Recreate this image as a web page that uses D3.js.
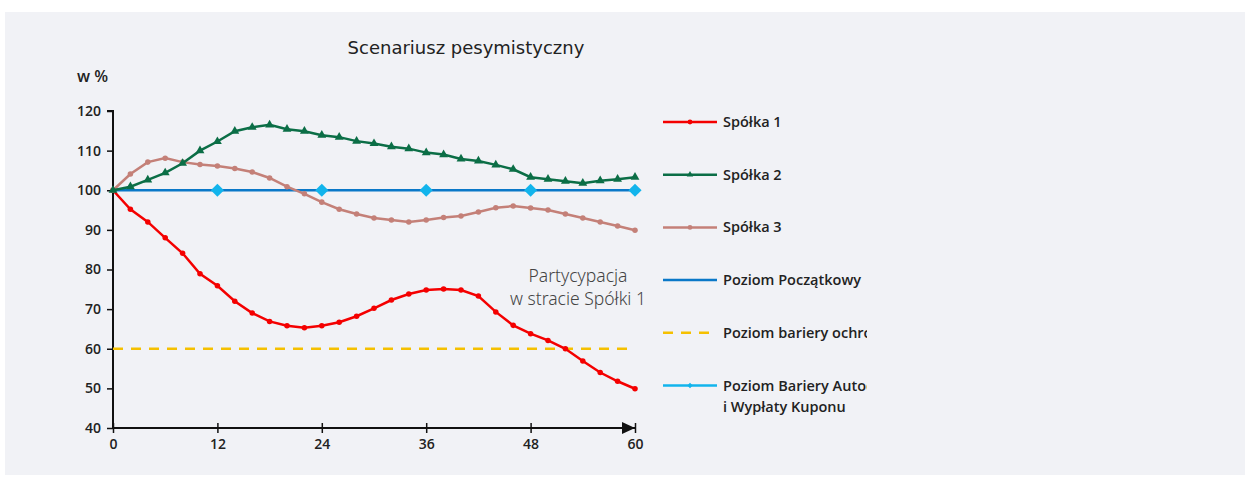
<!DOCTYPE html>
<html>
<head>
<meta charset="utf-8">
<script src="https://cdn.jsdelivr.net/npm/d3@7"></script>
<style>
  body { margin: 0; background: #fff; }
  text { font-family: "DejaVu Sans", sans-serif; }
</style>
</head>
<body>
<div class="chart"></div>
<script>
const months = d3.range(0, 61, 2);
const spolka1 = [100, 95.2, 92, 88, 84.1, 78.9, 75.9, 72, 69, 66.9, 65.8, 65.3, 65.8, 66.7, 68.2, 70.2, 72.3, 73.8, 74.8, 75.1, 74.8, 73.3, 69.3, 65.9, 63.8, 62.1, 60, 56.9, 54, 51.8, 49.9];
const spolka2 = [100, 100.9, 102.6, 104.4, 106.8, 110, 112.3, 114.9, 115.9, 116.5, 115.4, 114.9, 113.9, 113.4, 112.4, 111.8, 111, 110.5, 109.5, 109, 107.9, 107.4, 106.4, 105.3, 103.3, 102.8, 102.3, 101.8, 102.4, 102.8, 103.3];
const spolka3 = [100, 104.1, 107.1, 108.1, 107.1, 106.5, 106.1, 105.5, 104.6, 103.1, 100.9, 99.1, 97, 95.2, 94, 93, 92.5, 92, 92.5, 93.1, 93.5, 94.5, 95.6, 96, 95.5, 95, 94, 93, 92, 91, 89.9];
const poziomPoczatkowy = 100;
const poziomBariery = 60;
const autocallMonths = [12, 24, 36, 48, 60];
const autocallLevel = 100;
const xTicks = [0, 12, 24, 36, 48, 60];
const yTicks = [40, 50, 60, 70, 80, 90, 100, 110, 120];

const W = 1249, H = 477;
const svg = d3.select('.chart').append('svg')
  .attr('width', W).attr('height', H);

svg.append('rect').attr('x', 5).attr('y', 12).attr('width', 1240).attr('height', 463).attr('fill', '#f1f2f6');

const x = d3.scaleLinear().domain([0, 60]).range([113, 635]);
const y = d3.scaleLinear().domain([40, 120]).range([428, 111]);

svg.append('text').attr('x', 466).attr('y', 54).attr('text-anchor', 'middle')
  .attr('font-size', 18).attr('fill', '#222').text('Scenariusz pesymistyczny');

svg.append('text').attr('x', 77).attr('y', 82)
  .style('font-family', '"Open Sans", sans-serif').attr('font-weight', 600)
  .attr('font-size', 16).attr('fill', '#222').text('w %');

// axes
const yAxis = d3.axisLeft(y).tickValues(yTicks).tickSize(6).tickPadding(6);
const gy = svg.append('g').attr('transform', `translate(${x(0)},0)`).call(yAxis);
gy.select('.domain').attr('stroke', '#111').attr('stroke-width', 2).attr('d', `M-6,${y(120)}H0V${y(40)}`);
gy.selectAll('.tick line').attr('stroke', '#111').attr('stroke-width', 1.5);
gy.selectAll('.tick text').attr('font-size', 14).attr('fill', '#222')
  .style('font-family', '"Open Sans", sans-serif').attr('font-weight', 600);

const xAxis = d3.axisBottom(x).tickValues(xTicks).tickSize(5).tickPadding(6);
const gx = svg.append('g').attr('transform', `translate(0,${y(40)})`).call(xAxis);
gx.select('.domain').attr('stroke', '#111').attr('stroke-width', 2).attr('d', `M${x(0)},0H${x(60)}`);
gx.selectAll('.tick line').attr('stroke', '#111').attr('stroke-width', 1.5).attr('y1', -5);
gx.selectAll('.tick text').attr('font-size', 14).attr('fill', '#222')
  .style('font-family', '"Open Sans", sans-serif').attr('font-weight', 600);
gx.append('path').attr('d', `M${x(60) - 13},-6L${x(60)},0L${x(60) - 13},6Z`).attr('fill', '#111');

// reference lines
svg.append('line').attr('x1', x(0)).attr('x2', x(60)).attr('y1', y(poziomBariery)).attr('y2', y(poziomBariery))
  .attr('stroke', '#f5c000').attr('stroke-width', 2.5).attr('stroke-dasharray', '10,8');
svg.append('line').attr('x1', x(0)).attr('x2', x(60)).attr('y1', y(poziomPoczatkowy)).attr('y2', y(poziomPoczatkowy))
  .attr('stroke', '#0a78c8').attr('stroke-width', 2.5);

const line = d3.line().x((d, i) => x(months[i])).y(d => y(d));
const series = [
  { name: 'Spółka 1', data: spolka1, color: '#f40000', marker: 'circle' },
  { name: 'Spółka 3', data: spolka3, color: '#c48078', marker: 'circle' },
  { name: 'Spółka 2', data: spolka2, color: '#0b6e46', marker: 'triangle' }
];
series.forEach(s => {
  svg.append('path').datum(s.data).attr('d', line).attr('fill', 'none')
    .attr('stroke', s.color).attr('stroke-width', 2.5);
  const sym = s.marker === 'triangle' ? d3.symbolTriangle : d3.symbolCircle;
  const size = s.marker === 'triangle' ? 34 : 24;
  svg.append('g').selectAll('path').data(s.data).join('path')
    .attr('transform', (d, i) => `translate(${x(months[i])},${y(d)})`)
    .attr('d', d3.symbol().type(sym).size(size)).attr('fill', s.color);
});

svg.append('g').selectAll('path').data(autocallMonths).join('path')
  .attr('transform', d => `translate(${x(d)},${y(autocallLevel)})`)
  .attr('d', d3.symbol().type(d3.symbolDiamond2).size(110)).attr('fill', '#12b4ec');

// annotation
const ann = svg.append('text').attr('text-anchor', 'middle').attr('font-size', 17.5).attr('fill', '#444')
  .style('font-family', '"Noto Sans", sans-serif').attr('font-weight', 300);
ann.append('tspan').attr('x', 578).attr('y', 282).text('Partycypacja');
ann.append('tspan').attr('x', 578).attr('y', 305).text('w stracie Spółki 1');

// legend
svg.append('clipPath').attr('id', 'lg').append('rect').attr('x', 650).attr('y', 90).attr('width', 217).attr('height', 340);
const legend = svg.append('g').attr('clip-path', 'url(#lg)');
const legendItems = [
  { label: ['Spółka 1'], color: '#f40000', marker: d3.symbolCircle, dash: null },
  { label: ['Spółka 2'], color: '#0b6e46', marker: d3.symbolTriangle, dash: null },
  { label: ['Spółka 3'], color: '#c48078', marker: d3.symbolCircle, dash: null },
  { label: ['Poziom Początkowy'], color: '#0a78c8', marker: null, dash: null },
  { label: ['Poziom bariery ochrony kapitału'], color: '#f5c000', marker: null, dash: '10,8' },
  { label: ['Poziom Bariery Autocall', 'i Wypłaty Kuponu'], color: '#12b4ec', marker: d3.symbolDiamond2, dash: null }
];
legendItems.forEach((it, i) => {
  const ly = 122 + i * 52.7;
  const g = legend.append('g');
  g.append('line').attr('x1', 663).attr('x2', 717).attr('y1', ly).attr('y2', ly)
    .attr('stroke', it.color).attr('stroke-width', 2.5).attr('stroke-dasharray', it.dash);
  if (it.marker) {
    g.append('path').attr('transform', `translate(690,${ly})`)
      .attr('d', d3.symbol().type(it.marker).size(18)).attr('fill', it.color);
  }
  const t = g.append('text').attr('font-size', 14.5).attr('fill', '#222')
    .style('font-family', '"Open Sans", sans-serif').attr('font-weight', 600);
  it.label.forEach((l, j) => t.append('tspan').attr('x', 723).attr('y', ly + 5 + j * 21).text(l));
});
</script>
</body>
</html>
